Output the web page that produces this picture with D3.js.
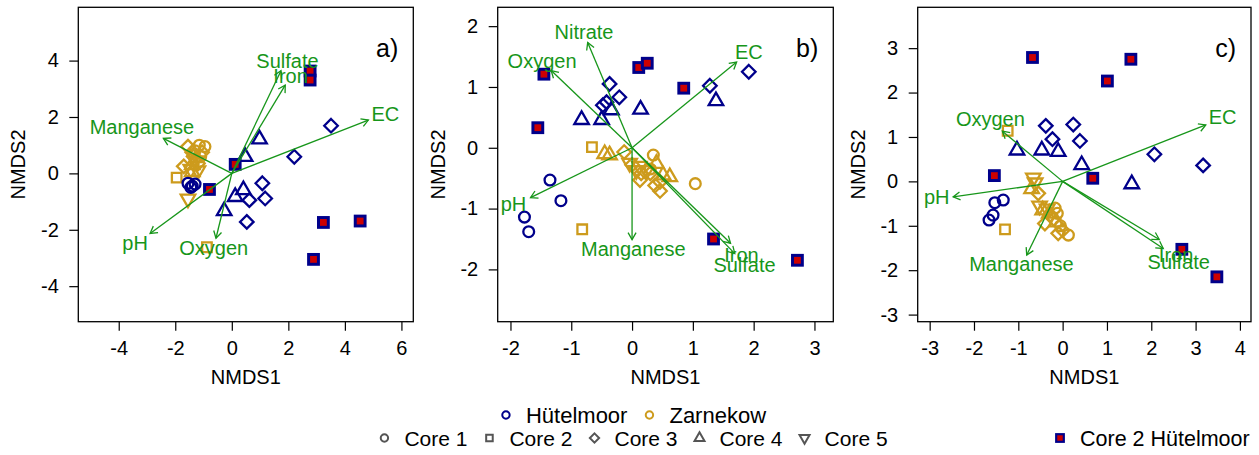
<!DOCTYPE html>
<html>
<head>
<meta charset="utf-8">
<script src="https://cdn.jsdelivr.net/npm/d3@7"></script>
<style>
  body { margin: 0; background: #fff; }
  svg { display: block; font-family: "Liberation Sans", Arial, sans-serif; }
</style>
</head>
<body>
<svg id="chart"></svg>
<script>
// legend texts
const coreLabels = ['Core 1', 'Core 2', 'Core 3', 'Core 4', 'Core 5'];
const siteLabels = ['Hütelmoor', 'Zarnekow'];
const redLabel = 'Core 2 Hütelmoor';
const panelTags = ['a)', 'b)', 'c)'];

// points are [NMDS1, NMDS2, core]  (core 1 circle, 2 square, 3 diamond, 4 triangle, 5 triangle down)

// ---- panel a
const aTicksX = [-4, -2, 0, 2, 4, 6];
const aTicksY = [-4, -2, 0, 2, 4];
const aHut = [
  [-1.55, -0.35, 1], [-1.40, -0.45, 1], [-1.30, -0.38, 1], [-1.45, -0.50, 1],
  [3.51, 1.69, 3], [2.21, 0.59, 3], [1.08, -0.35, 3], [1.18, -0.89, 3], [0.62, -0.95, 3], [0.53, -1.72, 3],
  [0.98, 1.21, 4], [0.47, 0.59, 4], [0.41, -0.59, 4], [0.12, -0.83, 4], [-0.27, -1.33, 4]
];
const aZar = [
  [-0.95, 0.95, 1], [-1.15, 1.00, 1], [-1.30, 0.80, 1], [-1.10, 0.60, 1],
  [-1.95, -0.15, 2], [-0.88, -2.62, 2],
  [-1.55, 0.95, 3], [-1.70, 0.25, 3], [-1.35, 0.60, 3], [-1.20, 0.35, 3], [-1.40, 0.75, 3], [-1.05, 0.75, 3],
  [-1.40, 0.30, 4], [-1.25, 0.55, 4], [-1.40, 0.05, 4],
  [-1.55, -0.90, 5], [-1.30, 0.45, 5], [-1.20, 0.10, 5], [-1.45, 0.15, 5]
];
const aHutCore2 = [[2.77, 3.63], [2.77, 3.31], [0.12, 0.32], [-0.79, -0.57], [3.24, -1.74], [4.54, -1.69], [2.89, -3.05]];
const aVecNames = ['Sulfate', 'Iron', 'EC', 'Manganese', 'pH', 'Oxygen'];
const aVecTips = [[1.74, 3.64], [1.89, 3.13], [4.83, 1.89], [-2.42, 1.24], [-2.89, -2.13], [-0.56, -2.30]];
const aVecLabels = [[1.97, 3.99], [2.08, 3.45], [5.43, 2.09], [-3.18, 1.65], [-3.42, -2.46], [-0.64, -2.66]];

// ---- panel b
const bTicksX = [-2, -1, 0, 1, 2, 3];
const bTicksY = [-2, -1, 0, 1, 2];
const bHut = [
  [-1.35, -0.53, 1], [-1.17, -0.87, 1], [-1.77, -1.14, 1], [-1.70, -1.38, 1],
  [-0.37, 1.05, 3], [-0.21, 0.83, 3], [-0.48, 0.70, 3], [-0.42, 0.75, 3], [1.28, 1.02, 3], [1.92, 1.25, 3],
  [-0.83, 0.46, 4], [-0.50, 0.46, 4], [-0.34, 0.62, 4], [0.14, 0.63, 4], [1.38, 0.77, 4]
];
const bZar = [
  [0.35, -0.12, 1], [1.04, -0.59, 1], [0.30, -0.35, 1],
  [-0.66, 0.01, 2], [-0.82, -1.34, 2],
  [-0.13, -0.07, 3], [0.00, -0.28, 3], [0.15, -0.42, 3], [0.13, -0.53, 3], [0.30, -0.42, 3], [0.46, -0.56, 3], [0.46, -0.71, 3], [0.38, -0.62, 3],
  [-0.45, -0.10, 4], [-0.37, -0.12, 4], [0.40, -0.26, 4], [0.62, -0.48, 4], [0.51, -0.45, 4],
  [-0.04, -0.25, 5], [0.07, -0.37, 5], [0.24, -0.37, 5], [0.12, -0.30, 5]
];
const bHutCore2 = [[-1.45, 1.21], [0.11, 1.32], [0.25, 1.39], [0.85, 0.98], [-1.55, 0.33], [1.34, -1.50], [2.72, -1.85]];
const bVecNames = ['Nitrate', 'Oxygen', 'EC', 'pH', 'Manganese', 'Iron', 'Sulfate'];
const bVecTips = [[-0.73, 1.73], [-1.33, 1.27], [1.72, 1.41], [-1.67, -0.82], [0.00, -1.51], [1.62, -1.57], [1.69, -1.74]];
const bVecLabels = [[-0.79, 1.90], [-1.48, 1.43], [1.92, 1.57], [-1.95, -0.93], [0.02, -1.67], [1.80, -1.77], [1.85, -1.92]];

// ---- panel c
const cTicksX = [-3, -2, -1, 0, 1, 2, 3, 4];
const cTicksY = [-3, -2, -1, 0, 1, 2, 3];
const cHut = [
  [-1.34, -0.42, 1], [-1.53, -0.48, 1], [-1.57, -0.76, 1], [-1.66, -0.87, 1],
  [-0.38, 1.25, 3], [-0.23, 0.95, 3], [0.24, 1.28, 3], [0.39, 0.91, 3], [2.07, 0.61, 3], [3.17, 0.36, 3],
  [-1.03, 0.70, 4], [-0.47, 0.70, 4], [-0.10, 0.67, 4], [0.43, 0.37, 4], [1.56, -0.06, 4]
];
const cZar = [
  [-0.17, -0.60, 1], [-0.12, -0.72, 1], [0.13, -1.21, 1], [-0.05, -1.00, 1],
  [-1.24, 1.14, 2], [-1.30, -1.08, 2],
  [-0.55, -0.27, 3], [-0.40, -0.95, 3], [-0.10, -1.17, 3], [-0.20, -0.85, 3], [0.00, -1.10, 3], [-0.28, -0.75, 3],
  [-0.70, -0.17, 4], [-0.45, -0.65, 4], [-0.30, -0.72, 4], [-0.15, -0.92, 4],
  [-0.66, 0.08, 5], [-0.62, -0.03, 5], [-0.52, -0.55, 5], [-0.35, -0.62, 5]
];
const cHutCore2 = [[-0.68, 2.79], [1.54, 2.75], [1.01, 2.26], [-1.54, 0.13], [0.68, 0.07], [2.69, -1.53], [3.48, -2.15]];
const cVecNames = ['Oxygen', 'EC', 'pH', 'Manganese', 'Iron', 'Sulfate'];
const cVecTips = [[-1.36, 1.13], [3.23, 1.27], [-2.47, -0.35], [-0.81, -1.66], [2.18, -1.31], [2.27, -1.51]];
const cVecLabels = [[-1.63, 1.40], [3.61, 1.44], [-2.84, -0.35], [-0.93, -1.85], [2.56, -1.66], [2.62, -1.81]];

// colours
const navy = '#00008B', gold = '#CD9B1D', red = '#CD0000', green = '#17961a', grey = '#555555';
const fontFam = '"Liberation Sans", Arial, sans-serif';

const W = 1259, H = 455;
const boxTop = 7.3, boxBottom = 321.7;

const panels = [
  { left: 78.3, right: 413.3, xlim: [-5.43, 6.42], ylim: [-5.26, 5.89], ticksX: aTicksX, ticksY: aTicksY,
    hut: aHut, zar: aZar, red: aHutCore2, names: aVecNames, tips: aVecTips, labels: aVecLabels },
  { left: 497.7, right: 833.3, xlim: [-2.21, 3.31], ylim: [-2.86, 2.31], ticksX: bTicksX, ticksY: bTicksY,
    hut: bHut, zar: bZar, red: bHutCore2, names: bVecNames, tips: bVecTips, labels: bVecLabels },
  { left: 917.7, right: 1251, xlim: [-3.27, 4.25], ylim: [-3.16, 3.92], ticksX: cTicksX, ticksY: cTicksY,
    hut: cHut, zar: cZar, red: cHutCore2, names: cVecNames, tips: cVecTips, labels: cVecLabels }
];

// R-like plotting symbols, R = circle radius
function markerPath(core, R)
{
    if (core === 1) return `M${R},0A${R},${R} 0 1,1 ${-R},0A${R},${R} 0 1,1 ${R},0Z`;
    if (core === 2) { const s = R * 0.8862; return `M${-s},${-s}H${s}V${s}H${-s}Z`; }
    if (core === 3) { const d = R * 1.2533; return `M0,${-d}L${d},0L0,${d}L${-d},0Z`; }
    const r = R * 1.5551, xc = R * 1.3468, yc = R * 0.7776;
    if (core === 4) return `M0,${-r}L${xc},${yc}L${-xc},${yc}Z`;
    return `M0,${r}L${xc},${-yc}L${-xc},${-yc}Z`;
}

const svg = d3.select('#chart')
    .attr('width', W)
    .attr('height', H)
    .style('background', '#fff');

function styleAxis(g)
{
    g.attr('font-family', null).attr('font-size', null);
    g.select('.domain').remove();
    g.selectAll('.tick line').attr('stroke', '#000').attr('stroke-width', 1.2);
    g.selectAll('.tick text')
        .attr('fill', '#000')
        .attr('font-family', fontFam)
        .attr('font-size', 20);
}

panels.forEach((p, pi) => {
    const x = d3.scaleLinear().domain(p.xlim).range([p.left, p.right]);
    const y = d3.scaleLinear().domain(p.ylim).range([boxBottom, boxTop]);
    const g = svg.append('g');

    // axes
    g.append('g')
        .attr('transform', `translate(0,${boxBottom})`)
        .call(d3.axisBottom(x).tickValues(p.ticksX).tickFormat(d => String(d)).tickSize(9).tickPadding(10))
        .call(styleAxis);

    g.append('g')
        .attr('transform', `translate(${p.left},0)`)
        .call(d3.axisLeft(y).tickValues(p.ticksY).tickFormat(d => String(d)).tickSize(9).tickPadding(10.5))
        .call(styleAxis);

    // axis titles
    g.append('text')
        .attr('x', (p.left + p.right) / 2)
        .attr('y', 384)
        .attr('text-anchor', 'middle')
        .attr('font-size', 20)
        .attr('font-family', fontFam)
        .text('NMDS1');

    g.append('text')
        .attr('transform', `translate(${p.left - 53},${(boxTop + boxBottom) / 2}) rotate(-90)`)
        .attr('text-anchor', 'middle')
        .attr('font-size', 20)
        .attr('font-family', fontFam)
        .text('NMDS2');

    // sites: Zarnekow, then Hütelmoor, then Core 2 Hütelmoor
    g.append('g').selectAll('path')
        .data(p.zar)
        .join('path')
        .attr('transform', d => `translate(${x(d[0])},${y(d[1])})`)
        .attr('d', d => markerPath(d[2], 5.4))
        .attr('fill', 'none')
        .attr('stroke', gold)
        .attr('stroke-width', 2.3);

    g.append('g').selectAll('path')
        .data(p.hut)
        .join('path')
        .attr('transform', d => `translate(${x(d[0])},${y(d[1])})`)
        .attr('d', d => markerPath(d[2], 5.4))
        .attr('fill', 'none')
        .attr('stroke', navy)
        .attr('stroke-width', 2.3);

    g.append('g').selectAll('rect')
        .data(p.red)
        .join('rect')
        .attr('x', d => x(d[0]) - 4.9)
        .attr('y', d => y(d[1]) - 4.9)
        .attr('width', 9.8)
        .attr('height', 9.8)
        .attr('fill', red)
        .attr('stroke', navy)
        .attr('stroke-width', 3);

    // environmental vectors
    const x0 = x(0), y0 = y(0);
    const vec = g.append('g');
    p.tips.forEach((t, i) => {
        const tx = x(t[0]), ty = y(t[1]);
        const a = Math.atan2(ty - y0, tx - x0);
        const L = 8, spread = Math.PI / 6;
        const h1 = [tx - L * Math.cos(a - spread), ty - L * Math.sin(a - spread)];
        const h2 = [tx - L * Math.cos(a + spread), ty - L * Math.sin(a + spread)];
        vec.append('line')
            .attr('x1', x0).attr('y1', y0).attr('x2', tx).attr('y2', ty)
            .attr('stroke', green).attr('stroke-width', 1.3);
        vec.append('path')
            .attr('d', `M${h1[0]},${h1[1]}L${tx},${ty}L${h2[0]},${h2[1]}`)
            .attr('fill', 'none').attr('stroke', green).attr('stroke-width', 1.3);
    });

    vec.selectAll('text')
        .data(p.names)
        .join('text')
        .attr('x', (d, i) => x(p.labels[i][0]))
        .attr('y', (d, i) => y(p.labels[i][1]))
        .attr('dy', '0.35em')
        .attr('text-anchor', 'middle')
        .attr('font-size', 20)
        .attr('font-family', fontFam)
        .attr('fill', green)
        .text(d => d);

    // panel tag
    g.append('text')
        .attr('x', p.right - 15)
        .attr('y', 57)
        .attr('text-anchor', 'end')
        .attr('font-size', 25)
        .attr('font-family', fontFam)
        .text(panelTags[pi]);

    // box
    g.append('rect')
        .attr('x', p.left).attr('y', boxTop)
        .attr('width', p.right - p.left).attr('height', boxBottom - boxTop)
        .attr('fill', 'none').attr('stroke', '#000').attr('stroke-width', 1.3);
});

// legend rows, laid out horizontally around a common centre
function legendRow(items, baseline, fontSize, centre)
{
    const row = svg.append('g');
    const gap = 22, symOff = 20;
    const nodes = items.map(it => {
        const t = row.append('text')
            .attr('y', baseline)
            .attr('font-size', fontSize)
            .attr('font-family', fontFam)
            .text(it.label);
        return { it, t, w: t.node().getComputedTextLength() };
    });
    const total = d3.sum(nodes, n => symOff + n.w) + gap * (nodes.length - 1);
    let cx = centre - total / 2;
    nodes.forEach(n => {
        row.append('path')
            .attr('transform', `translate(${cx},${baseline - 7.5})`)
            .attr('d', markerPath(n.it.core, 3.7))
            .attr('fill', 'none')
            .attr('stroke', n.it.color)
            .attr('stroke-width', 2);
        n.t.attr('x', cx + symOff);
        cx += symOff + n.w + gap;
    });
}

legendRow(siteLabels.map((s, i) => ({ label: s, core: 1, color: i === 0 ? navy : gold })), 422.5, 22, 636);
legendRow(coreLabels.map((c, i) => ({ label: c, core: i + 1, color: grey })), 445.5, 21, 636);

// Core 2 Hütelmoor key
svg.append('rect')
    .attr('x', 1060 - 3.8).attr('y', 438 - 3.8)
    .attr('width', 7.6).attr('height', 7.6)
    .attr('fill', red).attr('stroke', navy).attr('stroke-width', 2.2);
svg.append('text')
    .attr('x', 1080).attr('y', 445.5)
    .attr('font-size', 21.5)
    .attr('font-family', fontFam)
    .text(redLabel);
</script>
</body>
</html>
